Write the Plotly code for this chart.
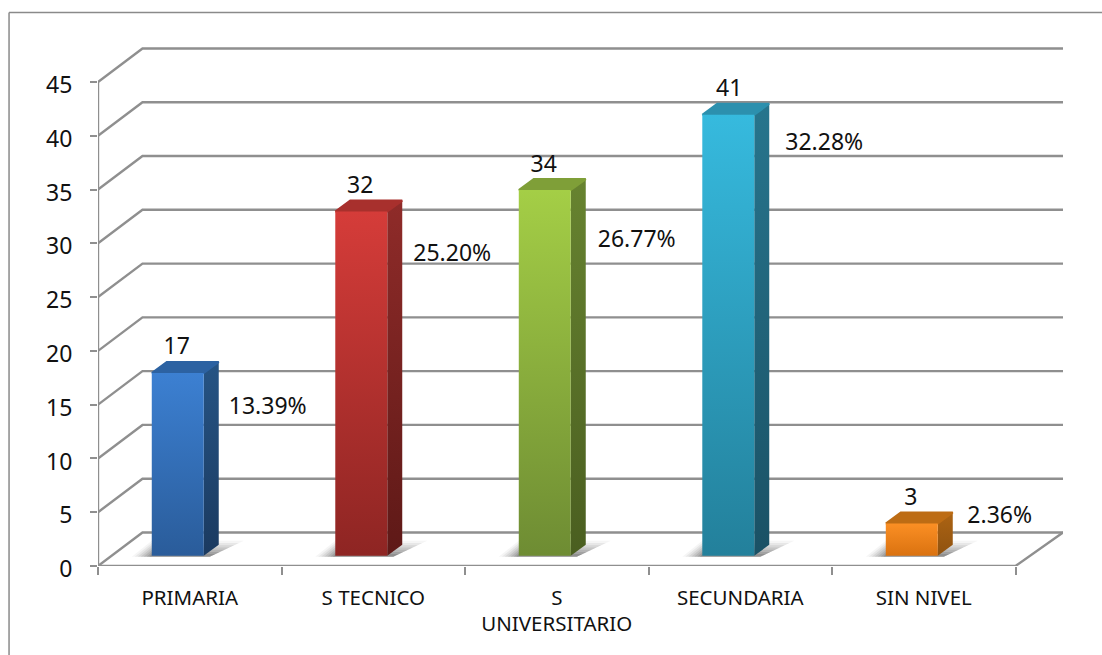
import plotly.graph_objects as go

categories = ["PRIMARIA", "S TECNICO", "S<br>UNIVERSITARIO", "SECUNDARIA", "SIN NIVEL"]
values = [17, 32, 34, 41, 3]
percent_labels = ["13.39%", "25.20%", "26.77%", "32.28%", "2.36%"]
y_ticks = [0, 5, 10, 15, 20, 25, 30, 35, 40, 45]
pct_label_drop = [3.3, 4.1, 4.8, 2.7, -0.6]
pct_label_nudge = [1, 2, 3, 7, -1]
value_label_nudge = [1, 1, 1, 3, 1]
shadow_layers = [(1.0, 0.05), (0.85, 0.07), (0.7, 0.09), (0.55, 0.11), (0.4, 0.13), (0.25, 0.15), (0.12, 0.17)]

front_colors = [("#2A5C9A", "#3C80D2"), ("#8E2523", "#D53C39"), ("#6E8C33", "#A4CE46"),
                ("#23809B", "#36BADE"), ("#DA7210", "#FB8F24")]
side_colors = [("#1B3A60", "#265484"), ("#5E1917", "#8F2B29"), ("#4A5E20", "#678330"),
               ("#1A5165", "#27758D"), ("#8F5210", "#AD6413")]
top_colors = ["#2C62A2", "#A8302D", "#7F9F38", "#2C90AE", "#BD6C14"]

W, H = 1102, 655
LEFT, RIGHT, TOP, BOTTOM = 97.5, 1063.0, 40.0, 565.7
PX_X, PX_Y = 183.6, 10.75
wall_dx, wall_dy = 44.5 / PX_X, 33.5 / PX_Y
bar_half = 26 / PX_X
bar_shift = -12 / PX_X
bar_dx, bar_dy = 15 / PX_X, 11 / PX_Y
bar_base = 10.2 / PX_Y
x_max = -0.5 + (RIGHT - LEFT) / PX_X
y_max = (BOTTOM - TOP) / PX_Y
GRID = "#8F8F8F"

fig = go.Figure()


def line(xs, ys, width=2.4, color=GRID):
    fig.add_trace(go.Scatter(x=xs, y=ys, mode="lines", cliponaxis=False, hoverinfo="skip",
                             showlegend=False, line=dict(color=color, width=width)))


def poly(xs, ys, grad=None, solid=None, edge=1.5):
    kw = dict(x=xs + xs[:1], y=ys + ys[:1], mode="lines", fill="toself", cliponaxis=False,
              hoverinfo="skip", showlegend=False)
    if grad:
        kw["fillgradient"] = dict(type="vertical", colorscale=[[0, grad[0]], [1, grad[1]]])
        kw["line"] = dict(color=grad[0], width=0)
    else:
        kw["fillcolor"] = solid
        kw["line"] = dict(color=solid, width=edge)
    fig.add_trace(go.Scatter(**kw))


# walls and floor
for v in y_ticks:
    line([-0.5, -0.5 + wall_dx, x_max], [v, v + wall_dy, v + wall_dy])
line([-0.5, -0.5], [0, y_ticks[-1]])
line([-0.5, 4.5, x_max], [0, 0, wall_dy])

# shadows, then the three faces of each bar
for i, v in enumerate(values):
    c = i + bar_shift
    l, r = c - bar_half, c + bar_half
    for grow, alpha in shadow_layers:
        poly([l - 20 / PX_X * grow, r + 6 / PX_X, r + (8 + 32 * grow) / PX_X, l],
             [bar_base - 0.1, bar_base - 0.1, bar_base + 1.4 * grow, bar_base + 1.4 * grow],
             solid=f"rgba(60,60,60,{alpha})", edge=0)
    poly([r, r + bar_dx, r + bar_dx, r],
         [bar_base, bar_base + bar_dy, bar_base + v + bar_dy, bar_base + v], grad=side_colors[i])
    poly([l, r, r + bar_dx, l + bar_dx],
         [bar_base + v, bar_base + v, bar_base + v + bar_dy, bar_base + v + bar_dy],
         solid=top_colors[i], edge=2)
    poly([l, r, r, l], [bar_base, bar_base, bar_base + v, bar_base + v], grad=front_colors[i])

FONT = "Noto Sans"
fig.add_trace(go.Scatter(
    x=[i + bar_shift + (n - 2) / PX_X for i, n in enumerate(value_label_nudge)],
    y=[v + bar_base + 2.25 for v in values],
    text=[str(v) for v in values], mode="text", textposition="middle center", cliponaxis=False,
    textfont=dict(family=FONT, size=23, color="#111111"), hoverinfo="skip", showlegend=False))
fig.add_trace(go.Scatter(
    x=[i + bar_shift + (89 + n) / PX_X for i, n in enumerate(pct_label_nudge)],
    y=[v + bar_base - d for v, d in zip(values, pct_label_drop)],
    text=percent_labels, mode="text", textposition="middle center", cliponaxis=False,
    textfont=dict(family=FONT, size=23, color="#111111"), hoverinfo="skip", showlegend=False))

fig.update_layout(
    width=W, height=H, autosize=False, plot_bgcolor="white", paper_bgcolor="white",
    margin=dict(l=LEFT, r=W - RIGHT, t=TOP, b=H - BOTTOM, pad=0),
    xaxis=dict(range=[-0.5, x_max], tickvals=list(range(len(categories))), ticktext=categories,
               showgrid=False, zeroline=False, showline=False, ticks="outside", ticklen=13,
               tickcolor="rgba(0,0,0,0)", tickfont=dict(family=FONT, size=20.5, color="#111111"),
               minor=dict(ticks="outside", ticklen=8, tickwidth=2, tickcolor=GRID,
                          tickvals=[-0.5, 0.5, 1.5, 2.5, 3.5, 4.5], showgrid=False)),
    yaxis=dict(range=[0, y_max], tickvals=y_ticks, showgrid=False, zeroline=False, showline=False,
               ticks="outside", ticklen=7, tickwidth=2, tickcolor=GRID, ticklabelstandoff=13,
               ticklabelshift=3,
               tickfont=dict(family=FONT, size=23, color="#111111")),
    shapes=[dict(type="line", xref="paper", yref="paper", x0=(8.5 - LEFT) / (RIGHT - LEFT),
                 x1=(W - LEFT) / (RIGHT - LEFT), y0=(BOTTOM - 12.5) / (BOTTOM - TOP),
                 y1=(BOTTOM - 12.5) / (BOTTOM - TOP), line=dict(color="#8A8A8A", width=1.5)),
            dict(type="line", xref="paper", yref="paper", x0=(8.5 - LEFT) / (RIGHT - LEFT),
                 x1=(8.5 - LEFT) / (RIGHT - LEFT), y0=(BOTTOM - 12.5) / (BOTTOM - TOP),
                 y1=(BOTTOM - H) / (BOTTOM - TOP), line=dict(color="#8A8A8A", width=1.5))],
)
fig.write_html("out.html", config={"displayModeBar": False},
               post_script="document.body.style.margin='0';window.dispatchEvent(new Event('resize'));")
